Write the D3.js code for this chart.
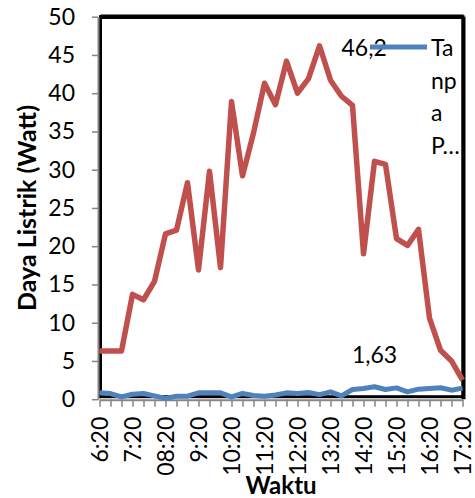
<!DOCTYPE html>
<html><head><meta charset="utf-8">
<script src="https://cdn.jsdelivr.net/npm/d3@7"></script>
<style>html,body{margin:0;padding:0;background:#fff;}svg{display:block;}</style>
</head><body>
<svg id="c" width="475" height="498"></svg>
<script>
const categories = ["6:20","6:40","7:00","7:20","7:40","8:00","08:20","8:40","9:00","9:20","9:40","10:00","10:20","10:40","11:00","11:20","11:40","12:00","12:20","12:40","13:00","13:20","13:40","14:00","14:20","14:40","15:00","15:20","15:40","16:00","16:20","16:40","17:00","17:20"];
const seriesRed = [6.3,6.3,6.3,13.7,13.0,15.4,21.6,22.1,28.3,16.9,29.8,17.2,38.9,29.2,34.8,41.3,38.5,44.2,40.0,41.9,46.2,41.7,39.6,38.4,19.0,31.1,30.7,21.0,20.1,22.2,10.6,6.4,5.0,2.5];
const seriesBlue = [0.85,0.74,0.3,0.65,0.75,0.43,0.1,0.4,0.4,0.83,0.83,0.83,0.3,0.75,0.48,0.4,0.55,0.83,0.75,0.87,0.6,0.96,0.43,1.27,1.4,1.63,1.27,1.48,0.96,1.31,1.4,1.5,1.18,1.45];
const yTicks = [0,5,10,15,20,25,30,35,40,45,50];
const xLabelEvery = 3;
const legendLines = ["Ta","np","a","P…"];
const yTitle = "Daya Listrik (Watt)";
const xTitle = "Waktu";

const svg = d3.select("#c");
const FONT = "Lato, 'Open Sans', sans-serif";
const L = 99.5, R = 462.5, T = 16.7, B = 399.2;
const x = d3.scalePoint().domain(categories).range([L, R]);
const y = d3.scaleLinear().domain([0, 50]).range([B, T]);

// plot border
svg.append("rect").attr("x", L + 1).attr("y", T).attr("width", R - L - 0.5).attr("height", B - T - 2.5)
  .attr("fill", "none").attr("stroke", "#000").attr("stroke-width", 3);
svg.append("line").attr("x1", L + 1).attr("x2", R + 1).attr("y1", T).attr("y2", T)
  .attr("stroke", "#000").attr("stroke-width", 4.5);
svg.append("line").attr("x1", R + 1).attr("x2", R + 1).attr("y1", T).attr("y2", B)
  .attr("stroke", "#000").attr("stroke-width", 4);

// y axis
const yAx = svg.append("g").attr("transform", `translate(${L - 1.5},0)`)
  .call(d3.axisLeft(y).tickValues(yTicks).tickSize(6).tickSizeOuter(0).tickPadding(17).tickFormat(d3.format("d")));
yAx.select(".domain").attr("stroke", "#868686").attr("stroke-width", 2);
yAx.selectAll("line").attr("stroke", "#868686").attr("stroke-width", 1.5);
yAx.selectAll("text").attr("font-family", FONT).attr("font-size", 23).attr("fill", "#000");

// x axis
const xAx = svg.append("g").attr("transform", `translate(0,${B + 0.5})`)
  .call(d3.axisBottom(x).tickSize(7).tickSizeOuter(0).tickFormat((d, i) => i % xLabelEvery === 0 ? d : ""));
xAx.select(".domain").attr("stroke", "#868686").attr("stroke-width", 2);
xAx.selectAll("line").attr("stroke", "#868686").attr("stroke-width", 1.5);
xAx.selectAll("text").attr("font-family", FONT).attr("font-size", 23).attr("fill", "#000")
  .attr("transform", "rotate(-90)").attr("text-anchor", "end")
  .attr("x", -17).attr("y", 0).attr("dy", "0.36em");

const line = d3.line().x((d, i) => x(categories[i])).y(d => y(d));
svg.append("path").datum(seriesRed).attr("d", line).attr("fill", "none")
  .attr("stroke", "#C0504D").attr("stroke-width", 5.5).attr("stroke-linejoin", "round");
svg.append("path").datum(seriesBlue).attr("d", line).attr("fill", "none")
  .attr("stroke", "#4F81BD").attr("stroke-width", 5).attr("stroke-linejoin", "round");

// data labels
const iMaxR = seriesRed.indexOf(d3.max(seriesRed));
svg.append("text").attr("x", x(categories[iMaxR]) + 22).attr("y", y(seriesRed[iMaxR]) + 10)
  .attr("font-family", FONT).attr("font-size", 23).text(String(seriesRed[iMaxR]).replace(".", ","));
const iMaxB = seriesBlue.indexOf(d3.max(seriesBlue));
svg.append("text").attr("x", x(categories[iMaxB])).attr("y", y(seriesBlue[iMaxB]) - 24)
  .attr("text-anchor", "middle")
  .attr("font-family", FONT).attr("font-size", 23).text(String(seriesBlue[iMaxB]).replace(".", ","));

// legend
svg.append("line").attr("x1", 370).attr("x2", 427).attr("y1", 47).attr("y2", 47)
  .attr("stroke", "#4F81BD").attr("stroke-width", 5);
legendLines.forEach((t, i) => {
  svg.append("text").attr("x", 431).attr("y", 56 + i * 32.5)
    .attr("font-family", FONT).attr("font-size", 23).text(t);
});

// titles
svg.append("text").attr("x", (L + R) / 2).attr("y", 494).attr("text-anchor", "middle")
  .attr("font-family", FONT).attr("font-weight", "bold").attr("font-size", 24).text(xTitle);
svg.append("text").attr("transform", `translate(36,${(T + B) / 2}) rotate(-90)`)
  .attr("text-anchor", "middle")
  .attr("font-family", FONT).attr("font-weight", "bold").attr("font-size", 25).text(yTitle);
</script>
</body></html>
